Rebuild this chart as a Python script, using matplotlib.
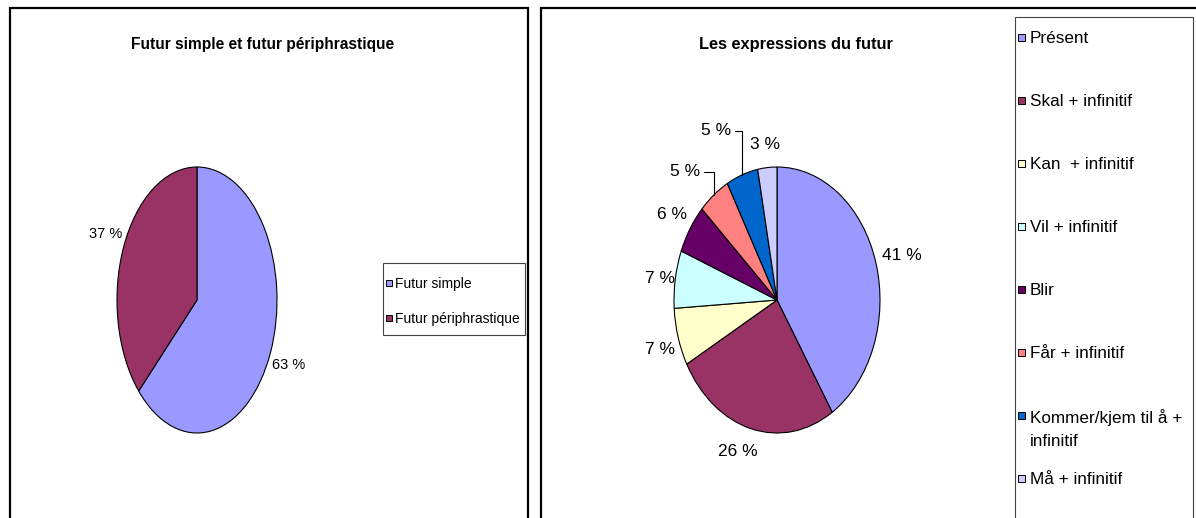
'''
Two pie charts on the future tense: futur simple vs futur périphrastique,
and the Norwegian expressions used to render the future.
'''
import textwrap
import numpy as np
import matplotlib
matplotlib.use('Agg')
import matplotlib.pyplot as plt
from matplotlib.patches import Rectangle

# data
left_title = 'Futur simple et futur périphrastique'
left_labels = ['Futur simple', 'Futur périphrastique']
left_values = [63, 37]
left_colors = ['#9999FF', '#993366']

right_title = 'Les expressions du futur'
right_labels = ['Présent', 'Skal + infinitif', 'Kan  + infinitif', 'Vil + infinitif',
                'Blir', 'Får + infinitif', 'Kommer/kjem til å + infinitif', 'Må + infinitif']
right_values = [41, 26, 7, 7, 6, 5, 5, 3]
right_colors = ['#9999FF', '#993366', '#FFFFCC', '#CCFFFF',
                '#660066', '#FF8080', '#0066CC', '#CCCCFF']

W, H = 1196, 518

plt.rcParams['font.family'] = ['Liberation Sans', 'DejaVu Sans']


def px_box(x0, y0, w, h):
    # pixel box (top-left origin) -> figure fraction
    return [x0 / W, 1 - (y0 + h) / H, w / W, h / H]


def draw_pie(fig, values, colors, center, rx, ry, offsets, leaders, fontsize):
    cx, cy = center
    half = 160
    ax = fig.add_axes(px_box(cx - half, cy - half, 2 * half, 2 * half))
    wedges, _ = ax.pie(values, colors=colors, startangle=90, counterclock=False,
                       wedgeprops=dict(edgecolor='black', linewidth=0.8))
    ax.set_aspect('auto')
    ax.set_xlim(-half / rx, half / rx)
    ax.set_ylim(-half / ry, half / ry)
    ax.axis('off')

    for i, (w, v) in enumerate(zip(wedges, values)):
        mid = np.deg2rad((w.theta1 + w.theta2) / 2)
        xy = (np.cos(mid), np.sin(mid))
        dx, dy = offsets[i]
        arrow = None
        if leaders[i]:
            arrow = dict(arrowstyle='-', lw=0.8, color='black',
                         shrinkA=1, shrinkB=0, relpos=(1, 0.5),
                         connectionstyle='angle,angleA=0,angleB=90,rad=0')
        ax.annotate(f'{v} %', xy=xy, xytext=(dx, -dy), textcoords='offset pixels',
                    ha='center', va='center', fontsize=fontsize, arrowprops=arrow)
    return ax


def draw_legend(fig, labels, colors, x0, y0, w, h, first_y, step, fontsize, wrap,
                box=7, gap=15):
    fig.patches.append(Rectangle((x0 / W, 1 - (y0 + h) / H), w / W, h / H,
                                 transform=fig.transFigure, fill=False,
                                 edgecolor='#444444', linewidth=0.8))
    size_px = fontsize / 72 * 100
    cap = size_px * 0.72
    pitch = 25
    for i, (lab, col) in enumerate(zip(labels, colors)):
        y = first_y + i * step
        fig.patches.append(Rectangle(((x0 + 3) / W, 1 - (y + box / 2) / H), box / W, box / H,
                                     transform=fig.transFigure, facecolor=col,
                                     edgecolor='black', linewidth=0.7))
        text = textwrap.fill(lab, wrap)
        n = text.count('\n')
        # baseline of the last line, so the first line sits on the marker
        fig.text((x0 + gap) / W, 1 - (y + cap / 2 + n * pitch) / H, text,
                 ha='left', va='baseline', fontsize=fontsize,
                 linespacing=pitch / (size_px * 0.86))


fig = plt.figure(figsize=(W / 100, H / 100), dpi=100)

# panel frames
fig.patches.append(Rectangle((10 / W, -0.05), 518 / W, (H - 8) / H + 0.05,
                             transform=fig.transFigure, fill=False,
                             edgecolor='black', linewidth=1.6))
fig.patches.append(Rectangle((541 / W, -0.05), 0.6, (H - 8) / H + 0.05,
                             transform=fig.transFigure, fill=False,
                             edgecolor='black', linewidth=1.6))

# titles
fig.text(263 / W, 1 - 45 / H, left_title, ha='center', va='center',
         fontsize=11.2, fontweight='bold')
fig.text(796 / W, 1 - 45 / H, right_title, ha='center', va='center',
         fontsize=11.8, fontweight='bold')

# left pie
draw_pie(fig, left_values, left_colors, (197, 300), 80, 133,
         offsets=[(18, 12), (-18, -13)], leaders=[False, False], fontsize=10.5)
draw_legend(fig, left_labels, left_colors, 383, 263, 142, 72, 283, 35, 10, 30,
            box=6, gap=12)

# right pie
draw_pie(fig, right_values, right_colors, (777, 300), 103, 133,
         offsets=[(26, -7), (-14, 23), (-18, 12), (-15, -1),
                  (-18, -14), (-29, -23), (-26, -44), (-2, -23)],
         leaders=[False, False, False, False, False, True, True, False],
         fontsize=12.5)
draw_legend(fig, right_labels, right_colors, 1015, 17, 178, 520, 37, 63, 12.3, 20)

fig.savefig('out.png', dpi=100)
